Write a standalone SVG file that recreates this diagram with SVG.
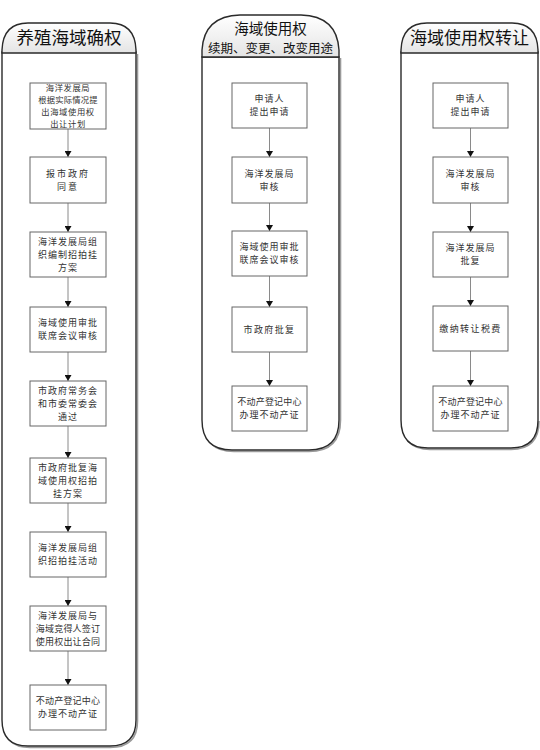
<svg xmlns="http://www.w3.org/2000/svg" width="540" height="750" viewBox="0 0 540 750">
<defs>
<linearGradient id="hg" x1="0" y1="0" x2="0" y2="1">
<stop offset="0" stop-color="#ffffff"/>
<stop offset="1" stop-color="#e4e4e4"/>
</linearGradient>
<marker id="ah" markerWidth="7" markerHeight="7" refX="6" refY="3.5" orient="auto" markerUnits="userSpaceOnUse">
<path d="M0,0 L6,3.5 L0,7 Z" fill="#111"/>
</marker>
<style>
.cont{fill:#fff;stroke:#2a2a2a;stroke-width:1.4}
.shadow{fill:none;stroke:#9a9a9a;stroke-width:1.6}
.head{fill:url(#hg);stroke:#2a2a2a;stroke-width:1.4}
.box{fill:#fff;stroke:#666;stroke-width:1}
.bt{font-family:"Noto Sans CJK SC","Noto Sans CJK TC",sans-serif;font-size:9px;fill:#333;text-anchor:middle;letter-spacing:1px}
.bt .t{letter-spacing:0.2px}
.b4{font-size:8.3px;letter-spacing:0.6px}
.ht{font-family:"Noto Sans CJK SC","Noto Sans CJK TC",sans-serif;fill:#111;text-anchor:middle}
.conn line{stroke:#8a8a8a;stroke-width:1;marker-end:url(#ah)}
</style>
</defs>
<rect width="540" height="750" fill="#fff"/>

<!-- containers -->
<g id="lane-left">
<path class="shadow" d="M3.5,54 L3.5,721 Q3.5,747.5 30,747.5 L110,747.5 Q137.5,747.5 137.5,721 L137.5,54"/>
<path class="cont" d="M2,52 L2,720 Q2,746 28,746 L110,746 Q136,746 136,720 L136,52 Z"/>
<path class="head" d="M2,53 L2,50 Q3,23 28,23 L110,23 Q135,23 136,50 L136,53 Z"/>
<text class="ht" x="69" y="44" font-size="17.5">养殖海域确权</text>
</g>
<g id="lane-mid">
<path class="shadow" d="M203.5,58 L203.5,420 Q203.5,451.5 234,451.5 L309,451.5 Q340.5,451.5 340.5,420 L340.5,58"/>
<path class="cont" d="M202,57 L202,420 Q202,450 232,450 L309,450 Q339,450 339,420 L339,57 Z"/>
<path class="head" d="M202,57 L202,50 Q204,16 240,15 L301,15 Q337,16 339,50 L339,57 Z"/>
<text class="ht" x="270.5" y="33.5" font-size="14.5">海域使用权</text>
<text class="ht" x="270.5" y="52.5" font-size="12.5">续期、变更、改变用途</text>
</g>
<g id="lane-right">
<path class="shadow" d="M402.5,54 L402.5,421 Q402.5,449.5 430,449.5 L511,449.5 Q539,449.5 539,421"/>
<path class="cont" d="M401,52 L401,420 Q401,448 428,448 L511,448 Q538,448 538,420 L538,52 Z"/>
<path class="head" d="M401,53 L401,50 Q402,23 427,23 L512,23 Q537,23 538,50 L538,53 Z"/>
<text class="ht" x="469.5" y="44" font-size="17">海域使用权转让</text>
</g>

<!-- connectors -->
<g id="connectors" class="conn">
<line x1="68" y1="129" x2="68" y2="157"/>
<line x1="68" y1="203" x2="68" y2="232"/>
<line x1="68" y1="277" x2="68" y2="307"/>
<line x1="68" y1="352" x2="68" y2="381"/>
<line x1="68" y1="426" x2="68" y2="458"/>
<line x1="68" y1="503" x2="68" y2="532"/>
<line x1="68" y1="577" x2="68" y2="606"/>
<line x1="68" y1="651" x2="68" y2="685"/>
<line x1="269.5" y1="128" x2="269.5" y2="157"/>
<line x1="269.5" y1="203" x2="269.5" y2="231"/>
<line x1="269.5" y1="276" x2="269.5" y2="307"/>
<line x1="269.5" y1="352" x2="269.5" y2="386"/>
<line x1="470.5" y1="128" x2="470.5" y2="157"/>
<line x1="470.5" y1="203" x2="470.5" y2="232"/>
<line x1="470.5" y1="277" x2="470.5" y2="306"/>
<line x1="470.5" y1="351" x2="470.5" y2="386"/>
</g>

<!-- left nodes -->
<g id="L1"><rect class="box" x="30" y="83" width="76" height="46"/>
<text class="bt b4"><tspan x="68" y="90.9">海洋发展局</tspan><tspan x="68" y="102.9" letter-spacing="0.2">根据实际情况提</tspan><tspan x="68" y="114.9">出海域使用权</tspan><tspan x="68" y="126.9">出让计划</tspan></text></g>
<g id="L2"><rect class="box" x="30" y="157" width="76" height="46"/>
<text class="bt"><tspan x="68" y="176.7" letter-spacing="2">报市政府</tspan><tspan x="68" y="189.7" letter-spacing="2">同意</tspan></text></g>
<g id="L3"><rect class="box" x="30" y="232" width="76" height="45"/>
<text class="bt"><tspan x="68" y="244.7">海洋发展局组</tspan><tspan x="68" y="257.7">织编制招拍挂</tspan><tspan x="68" y="270.7">方案</tspan></text></g>
<g id="L4"><rect class="box" x="30" y="307" width="76" height="45"/>
<text class="bt"><tspan x="68" y="326.2">海域使用审批</tspan><tspan x="68" y="339.2">联席会议审核</tspan></text></g>
<g id="L5"><rect class="box" x="30" y="381" width="76" height="45"/>
<text class="bt"><tspan x="68" y="393.7">市政府常务会</tspan><tspan x="68" y="406.7">和市委常委会</tspan><tspan x="68" y="419.7">通过</tspan></text></g>
<g id="L6"><rect class="box" x="30" y="458" width="76" height="45"/>
<text class="bt"><tspan x="68" y="470.7">市政府批复海</tspan><tspan x="68" y="483.7">域使用权招拍</tspan><tspan x="68" y="496.7">挂方案</tspan></text></g>
<g id="L7"><rect class="box" x="30" y="532" width="76" height="45"/>
<text class="bt"><tspan x="68" y="551.2">海洋发展局组</tspan><tspan x="68" y="564.2">织招拍挂活动</tspan></text></g>
<g id="L8"><rect class="box" x="30" y="606" width="76" height="45"/>
<text class="bt"><tspan x="68" y="618.7">海洋发展局与</tspan><tspan class="t" x="68" y="631.7">海域竞得人签订</tspan><tspan class="t" x="68" y="644.7">使用权出让合同</tspan></text></g>
<g id="L9"><rect class="box" x="30" y="685" width="76" height="45"/>
<text class="bt"><tspan class="t" x="68" y="704.2">不动产登记中心</tspan><tspan x="68" y="717.2">办理不动产证</tspan></text></g>

<!-- middle nodes -->
<g id="M1"><rect class="box" x="232" y="83" width="75" height="45"/>
<text class="bt"><tspan x="269.5" y="102.2">申请人</tspan><tspan x="269.5" y="115.2">提出申请</tspan></text></g>
<g id="M2"><rect class="box" x="232" y="157" width="75" height="46"/>
<text class="bt"><tspan x="269.5" y="176.7">海洋发展局</tspan><tspan x="269.5" y="189.7">审核</tspan></text></g>
<g id="M3"><rect class="box" x="232" y="231" width="75" height="45"/>
<text class="bt"><tspan x="269.5" y="250.2">海域使用审批</tspan><tspan x="269.5" y="263.2">联席会议审核</tspan></text></g>
<g id="M4"><rect class="box" x="232" y="307" width="75" height="45"/>
<text class="bt"><tspan x="269.5" y="332.7" letter-spacing="1.4">市政府批复</tspan></text></g>
<g id="M5"><rect class="box" x="232" y="386" width="75" height="45"/>
<text class="bt"><tspan class="t" x="269.5" y="405.2">不动产登记中心</tspan><tspan x="269.5" y="418.2">办理不动产证</tspan></text></g>

<!-- right nodes -->
<g id="R1"><rect class="box" x="433" y="83" width="75" height="45"/>
<text class="bt"><tspan x="470.5" y="102.2">申请人</tspan><tspan x="470.5" y="115.2">提出申请</tspan></text></g>
<g id="R2"><rect class="box" x="433" y="157" width="75" height="46"/>
<text class="bt"><tspan x="470.5" y="176.7">海洋发展局</tspan><tspan x="470.5" y="189.7">审核</tspan></text></g>
<g id="R3"><rect class="box" x="433" y="232" width="75" height="45"/>
<text class="bt"><tspan x="470.5" y="251.2">海洋发展局</tspan><tspan x="470.5" y="264.2">批复</tspan></text></g>
<g id="R4"><rect class="box" x="433" y="306" width="75" height="45"/>
<text class="bt"><tspan x="470.5" y="331.7" letter-spacing="1.4">缴纳转让税费</tspan></text></g>
<g id="R5"><rect class="box" x="433" y="386" width="75" height="45"/>
<text class="bt"><tspan class="t" x="470.5" y="405.2">不动产登记中心</tspan><tspan x="470.5" y="418.2">办理不动产证</tspan></text></g>
</svg>
